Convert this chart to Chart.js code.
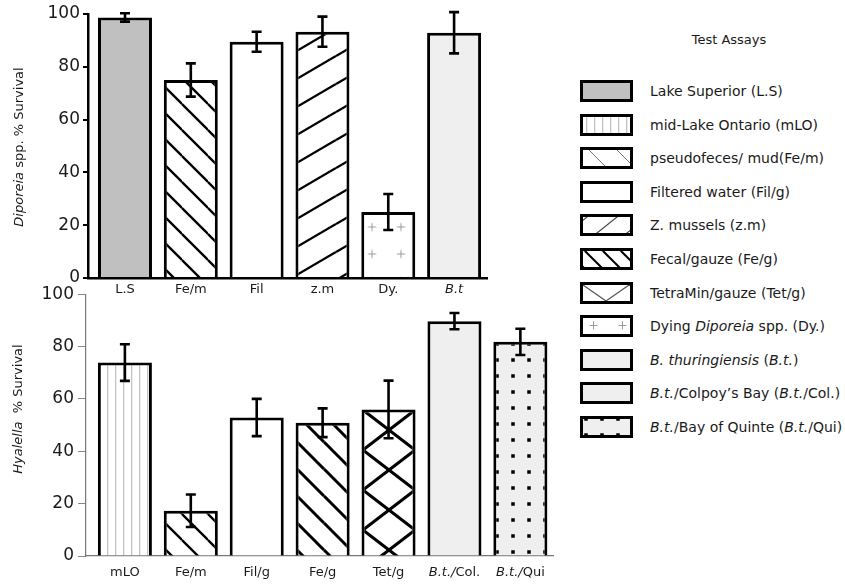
<!DOCTYPE html>
<html>
<head>
<meta charset="utf-8">
<script src="https://cdn.jsdelivr.net/npm/chart.js@4.4.1/dist/chart.umd.min.js"></script>
<style>
  html, body { margin: 0; padding: 0; background: #fff; }
  body { width: 845px; height: 585px; position: relative; overflow: hidden;
         font-family: "DejaVu Sans", Verdana, sans-serif; color: #1a1a1a; }
  #topWrap { position: absolute; left: 0; top: 0; width: 500px; height: 300px; }
  #botWrap { position: absolute; left: 0; top: 280px; width: 560px; height: 305px; }
  canvas { display: block; }
  .ytitle { position: absolute; white-space: nowrap; font-size: 13px;
            transform: translate(-50%, -50%) rotate(-90deg); }
  #legendTitle { position: absolute; left: 729px; top: 39px; font-size: 13px;
                 transform: translate(-50%, -50%); white-space: nowrap; }
  .swatch { position: absolute; left: 580px; width: 47px; height: 16px; border: 3px solid #000; }
  .ltext { position: absolute; left: 650px; font-size: 14px; white-space: nowrap;
           transform: translateY(-50%); }
</style>
</head>
<body>
<div id="topWrap"><canvas id="diporeiaChart" width="500" height="300"></canvas></div>
<div id="botWrap"><canvas id="hyalellaChart" width="560" height="305"></canvas></div>
<div class="ytitle" style="left:18px; top:147px;"><i>Diporeia</i> spp. % Survival</div>
<div class="ytitle" style="left:17px; top:409px;"><i>Hyalella</i>&nbsp; % Survival</div>
<div id="legendTitle">Test Assays</div>
<div id="legend"></div>

<script>
// Diporeia spp. survival per test assay
const topCategories = ['L.S', 'Fe/m', 'Fil', 'z.m', 'Dy.', 'B.t'];
const topSurvival   = [98.7, 75.0, 89.5, 93.3, 25.0, 92.9];
const topError      = [1.6, 6.3, 3.8, 5.7, 6.8, 7.8];
const topFills      = ['superior', 'pseudo', 'filtered', 'mussels', 'dying', 'bt'];

// Hyalella survival per test assay
const bottomCategories = ['mLO', 'Fe/m', 'Fil/g', 'Fe/g', 'Tet/g', 'B.t./Col.', 'B.t./Qui'];
const bottomSurvival   = [73.9, 17.3, 52.9, 50.9, 56.0, 89.7, 81.8];
const bottomError      = [7.0, 6.2, 7.1, 5.5, 11.0, 3.1, 5.0];
const bottomFills      = ['ontario', 'pseudo', 'filtered', 'fecal', 'tetramin', 'colpoy', 'quinte'];

const yTicks = [0, 20, 40, 60, 80, 100];

// Legend entries
const legendLabels = [
  'Lake Superior (L.S)',
  'mid-Lake Ontario (mLO)',
  'pseudofeces/ mud(Fe/m)',
  'Filtered water (Fil/g)',
  'Z. mussels (z.m)',
  'Fecal/gauze (Fe/g)',
  'TetraMin/gauze (Tet/g)',
  'Dying <i>Diporeia</i> spp. (Dy.)',
  '<i>B. thuringiensis</i> (<i>B.t.</i>)',
  '<i>B.t.</i>/Colpoy\u2019s Bay (<i>B.t.</i>/Col.)',
  '<i>B.t.</i>/Bay of Quinte (<i>B.t.</i>/Qui)'
];
const legendFills = ['superior', 'ontario', 'pseudo', 'filtered', 'mussels', 'fecal',
                     'tetramin', 'dying', 'bt', 'colpoy', 'quinte'];

// ---------- fill patterns ----------
function tile(w, h, draw) {
  const c = document.createElement('canvas');
  c.width = w; c.height = h;
  draw(c.getContext('2d'), w, h);
  return c;
}
// dir > 0 : rising lines (/), dir < 0 : falling lines (\)
function diagonalTile(w, h, lw, color, bg, dirs) {
  return tile(w, h, g => {
    g.fillStyle = bg; g.fillRect(0, 0, w, h);
    g.strokeStyle = color; g.lineWidth = lw;
    for (const dir of dirs) {
      for (const dx of [-w, 0, w]) for (const dy of [-h, 0, h]) {
        g.beginPath();
        if (dir > 0) { g.moveTo(dx, h + dy); g.lineTo(dx + w, dy); }
        else { g.moveTo(dx, dy); g.lineTo(dx + w, dy + h); }
        g.stroke();
      }
    }
  });
}
function pattern(ctx, canvas, tx, ty) {
  const p = ctx.createPattern(canvas, 'repeat');
  if (tx || ty) p.setTransform(new DOMMatrix().translate(tx || 0, ty || 0));
  return p;
}
function makeFill(ctx, kind, legend, shift) {
  const s = shift || {};
  switch (kind) {
    case 'superior': return '#c0c0c0';
    case 'filtered': return '#ffffff';
    case 'bt':
    case 'colpoy': return '#efefef';
    case 'ontario':
      return pattern(ctx, tile(8, 8, g => {
        g.fillStyle = '#fff'; g.fillRect(0, 0, 8, 8);
        g.fillStyle = '#c4c4c4'; g.fillRect(3, 0, 1.3, 8);
      }));
    case 'pseudo':
      return legend ? pattern(ctx, diagonalTile(28, 28, 1, '#777', '#fff', [-1]), 6, 0)
                    : pattern(ctx, diagonalTile(26, 26, 2.3, '#000', '#fff', [-1]));
    case 'mussels':
      return legend ? pattern(ctx, diagonalTile(30, 24, 1.2, '#444', '#fff', [1]), 4, 0)
                    : pattern(ctx, diagonalTile(48, 28, 2.3, '#000', '#fff', [1]));
    case 'fecal':
      return legend ? pattern(ctx, diagonalTile(18, 18, 2, '#000', '#fff', [-1]), 2, 0)
                    : pattern(ctx, diagonalTile(27, 27, 3, '#000', '#fff', [-1]));
    case 'tetramin':
      return legend ? pattern(ctx, diagonalTile(46, 32, 1.2, '#555', '#fff', [1, -1]), 0, 0)
                    : pattern(ctx, diagonalTile(52, 40, 3, '#000', '#fff', [1, -1]), s.tx, s.ty);
    case 'dying':
      return pattern(ctx, tile(29, 27, g => {
        g.fillStyle = '#fff'; g.fillRect(0, 0, 29, 27);
        g.strokeStyle = '#9a9a9a'; g.lineWidth = 1;
        g.beginPath();
        g.moveTo(10.5, 13.5); g.lineTo(18.5, 13.5);
        g.moveTo(14.5, 9.5); g.lineTo(14.5, 17.5);
        g.stroke();
      }), legend ? -4 : s.tx, legend ? -6 : s.ty);
    case 'quinte':
      return pattern(ctx, tile(16, 16, g => {
        g.fillStyle = '#efefef'; g.fillRect(0, 0, 16, 16);
        g.fillStyle = '#000';
        for (const [x, y] of [[0, 0], [16, 0], [0, 16], [16, 16]]) g.fillRect(x - 1.75, y - 1.75, 3.5, 3.5);
      }), legend ? 3 : s.tx, legend ? 0 : s.ty);
  }
  return '#fff';
}

// ---------- plugins ----------
const errorBars = {
  id: 'errorBars',
  afterDatasetsDraw(chart, args, opts) {
    const meta = chart.getDatasetMeta(0);
    const ys = chart.scales.y;
    const ctx = chart.ctx;
    const data = chart.data.datasets[0].data;
    ctx.save();
    ctx.strokeStyle = '#000';
    ctx.lineWidth = 2.6;
    meta.data.forEach((bar, i) => {
      const v = data[i].y, e = opts.errors[i];
      const yt = ys.getPixelForValue(v + e), yb = ys.getPixelForValue(v - e);
      const x = bar.x, c = 5;
      ctx.beginPath();
      ctx.moveTo(x, yt); ctx.lineTo(x, yb);
      ctx.moveTo(x - c, yt); ctx.lineTo(x + c, yt);
      ctx.moveTo(x - c, yb); ctx.lineTo(x + c, yb);
      ctx.stroke();
    });
    ctx.restore();
  }
};

function splitItalic(label) {
  const m = label.match(/^(B\.t\.?\/?)(.*)$/);
  if (!m) return [{ t: label, it: false }];
  return [{ t: m[1], it: true }, { t: m[2], it: false }].filter(s => s.t);
}

const categoryLabels = {
  id: 'categoryLabels',
  afterDraw(chart, args, opts) {
    const ctx = chart.ctx;
    const xs = chart.scales.x;
    const base = '13px "DejaVu Sans"';
    ctx.save();
    ctx.fillStyle = '#1a1a1a';
    ctx.textBaseline = 'middle';
    ctx.textAlign = 'left';
    opts.labels.forEach((lab, i) => {
      const segs = splitItalic(lab);
      let total = 0;
      segs.forEach(s => { ctx.font = (s.it ? 'italic ' : '') + base; s.w = ctx.measureText(s.t).width; total += s.w; });
      let x = xs.getPixelForValue(i) - total / 2;
      const y = chart.chartArea.bottom + opts.offset;
      segs.forEach(s => { ctx.font = (s.it ? 'italic ' : '') + base; ctx.fillText(s.t, x, y); x += s.w; });
    });
    ctx.restore();
  }
};

// ---------- chart builder ----------
function buildChart(id, cats, vals, errs, fills, cfg) {
  const canvas = document.getElementById(id);
  const ctx = canvas.getContext('2d');
  return new Chart(ctx, {
    type: 'bar',
    data: {
      datasets: [{
        data: vals.map((v, i) => ({ x: i, y: v })),
        backgroundColor: fills.map(k => makeFill(ctx, k, false, cfg.shifts[k])),
        borderColor: '#000',
        borderWidth: 3,
        borderSkipped: 'start',
        barPercentage: 0.82,
        categoryPercentage: 1
      }]
    },
    options: {
      responsive: false,
      animation: false,
      events: [],
      layout: { padding: { top: 14, right: cfg.right, left: 0, bottom: 0 } },
      plugins: {
        legend: { display: false },
        tooltip: { enabled: false },
        errorBars: { errors: errs },
        categoryLabels: { labels: cats, offset: cfg.labelOffset }
      },
      scales: {
        x: {
          type: 'linear',
          offset: false,
          min: cfg.xMin, max: cfg.xMax,
          afterBuildTicks(s) { s.ticks = cats.map((c, i) => ({ value: i })); },
          grid: { display: false },
          border: { display: true, color: cfg.axisColor, width: cfg.axisWidth },
          ticks: { display: false },
          afterFit(s) { s.height = cfg.xHeight; }
        },
        y: {
          min: 0, max: 100,
          afterBuildTicks(s) { s.ticks = yTicks.map(v => ({ value: v })); },
          ticks: { font: { family: 'DejaVu Sans', size: 17 }, color: '#1a1a1a', padding: cfg.tickPad },
          grid: { display: true, drawOnChartArea: false, drawTicks: true,
                  tickLength: cfg.tickLen, color: cfg.tickColor, lineWidth: cfg.tickWidth },
          border: { display: true, color: cfg.axisColor, width: cfg.axisWidth },
          afterFit(s) { s.width = cfg.yWidth; }
        }
      }
    },
    plugins: [errorBars, categoryLabels]
  });
}

buildChart('diporeiaChart', topCategories, topSurvival, topError, topFills, {
  right: 13, xMin: -0.562, xMax: 5.5, xHeight: 22, yWidth: 88,
  axisColor: '#000', axisWidth: 2.5, tickLen: 5, tickPad: 3, tickColor: '#000', tickWidth: 2,
  labelOffset: 12,
  shifts: { dying: { tx: 9.5, ty: -2.5 } }
});

buildChart('hyalellaChart', bottomCategories, bottomSurvival, bottomError, bottomFills, {
  right: 7, xMin: -0.59, xMax: 6.495, xHeight: 29, yWidth: 86,
  axisColor: '#777', axisWidth: 1.2, tickLen: 8, tickPad: 4, tickColor: '#888', tickWidth: 1,
  labelOffset: 17,
  shifts: { tetramin: { tx: -1, ty: 10 }, quinte: { tx: 1, ty: 0 } }
});

// ---------- legend ----------
const legend = document.getElementById('legend');
legendLabels.forEach((label, i) => {
  const cy = 91 + i * 33.6;
  const sw = document.createElement('canvas');
  sw.className = 'swatch';
  sw.width = 47; sw.height = 16;
  sw.style.top = (cy - 11) + 'px';
  const g = sw.getContext('2d');
  g.fillStyle = makeFill(g, legendFills[i], true);
  g.fillRect(0, 0, 47, 16);
  legend.appendChild(sw);
  const t = document.createElement('div');
  t.className = 'ltext';
  t.style.top = cy + 'px';
  t.innerHTML = label;
  legend.appendChild(t);
});
</script>
</body>
</html>
